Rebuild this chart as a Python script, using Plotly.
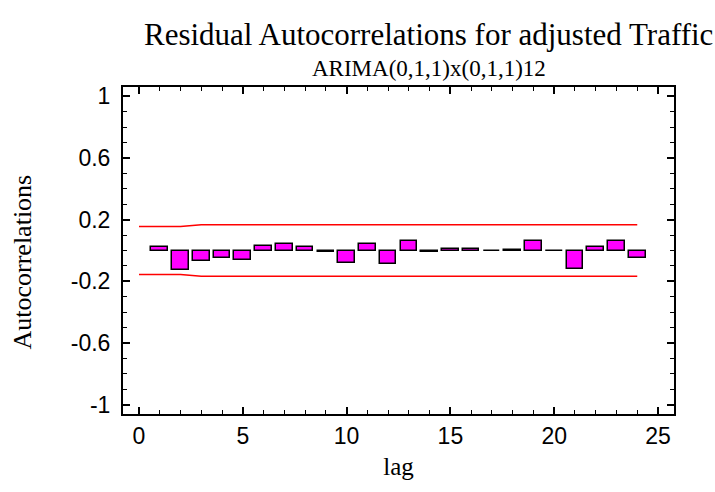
import plotly.graph_objects as go

lags = list(range(1, 25))
acf = [0.021, -0.125, -0.068, -0.048, -0.059, 0.032, 0.042, 0.025, -0.012, -0.078,
       0.045, -0.085, 0.060, -0.012, 0.008, 0.008, 0.0, 0.002, 0.060, 0.0,
       -0.118, 0.023, 0.060, -0.050]
limit_lags = list(range(0, 25))
upper = [0.155, 0.155, 0.155] + [0.167] * 22
lower = [-v for v in upper]

title = "Residual Autocorrelations for adjusted Traffic"
subtitle = "ARIMA(0,1,1)x(0,1,1)12"
x_ticks = [0, 5, 10, 15, 20, 25]
y_ticks = [-1, -0.6, -0.2, 0.2, 0.6, 1]

fig = go.Figure()
fig.add_trace(go.Bar(x=lags, y=acf, width=0.8,
                     marker=dict(color="#FF00FF", line=dict(color="black", width=1.5)),
                     showlegend=False))
fig.add_trace(go.Scatter(x=limit_lags, y=upper, mode="lines",
                         line=dict(color="red", width=1.5), showlegend=False))
fig.add_trace(go.Scatter(x=limit_lags, y=lower, mode="lines",
                         line=dict(color="red", width=1.5), showlegend=False))

serif = "Liberation Serif, Times New Roman, serif"
sans = "Liberation Sans, Arial, sans-serif"

fig.update_layout(
    width=715, height=492,
    margin=dict(l=123, r=41, t=87, b=78),
    paper_bgcolor="white", plot_bgcolor="white",
    bargap=0,
    annotations=[
        dict(text=title, xref="paper", yref="paper", x=0.555, y=1 + 52 / 327,
             xanchor="center", yanchor="middle", showarrow=False,
             font=dict(family=serif, size=31, color="black")),
        dict(text=subtitle, xref="paper", yref="paper", x=0.555, y=1 + 19 / 327,
             xanchor="center", yanchor="middle", showarrow=False,
             font=dict(family=serif, size=23, color="black")),
        dict(text="Autocorrelations", xref="paper", yref="paper", x=-123 / 551 + 22 / 551,
             y=0.5 - 12 / 327, xanchor="center", yanchor="middle", textangle=-90, showarrow=False,
             font=dict(family=serif, size=26, color="black")),
    ],
)
fig.update_xaxes(
    range=[-0.77, 25.77], tickvals=x_ticks, ticktext=[str(v) for v in x_ticks],
    showgrid=False, zeroline=False,
    showline=True, linecolor="black", linewidth=2, mirror="ticks",
    ticks="inside", ticklen=7, tickwidth=1.5, tickcolor="black",
    minor=dict(ticks="inside", dtick=1, ticklen=4, tickwidth=1, tickcolor="black"),
    tickfont=dict(family=sans, size=23, color="black"),
    title=dict(text="lag", font=dict(family=serif, size=25, color="black"), standoff=10),
)
fig.update_yaxes(
    range=[-1.06, 1.06], tickvals=y_ticks, ticktext=[f"{v:g}" for v in y_ticks],
    showgrid=False, zeroline=False,
    showline=True, linecolor="black", linewidth=2, mirror="ticks",
    ticks="inside", ticklen=7, tickwidth=1.5, tickcolor="black",
    minor=dict(ticks="inside", dtick=0.1, tick0=0, ticklen=4, tickwidth=1, tickcolor="black"),
    tickfont=dict(family=sans, size=23, color="black"),
    ticklabelstandoff=6,
)

fig.write_html("out.html")
